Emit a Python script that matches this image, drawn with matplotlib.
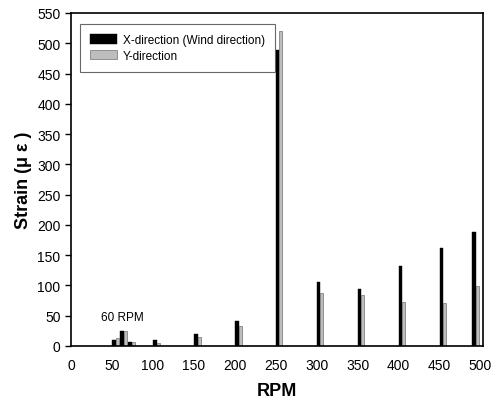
import matplotlib
matplotlib.use("Agg")
import matplotlib.pyplot as plt

rpm = [50, 60, 70, 100, 150, 200, 250, 300, 350, 400, 450, 490]
x_strain = [10, 25, 7, 10, 20, 41, 489, 105, 94, 132, 162, 189]
y_strain = [14, 25, 7, 5, 15, 33, 521, 88, 85, 73, 71, 99]
xticks = list(range(0, 501, 50))
yticks = list(range(0, 551, 50))

plt.rcParams['font.family'] = ['Liberation Sans', 'DejaVu Sans']

fig = plt.figure(figsize=(4.97, 4.10), dpi=100)
ax = fig.add_axes([0.1429, 0.1537, 0.8289, 0.8122])

w = 4.5
ax.bar(rpm, x_strain, width=w, align='edge', color='black', edgecolor='black', linewidth=0.3,
       label='X-direction (Wind direction)')
ax.bar([r + w for r in rpm], y_strain, width=w - 0.8, align='edge', color='#bdbdbd',
       edgecolor='#555555', linewidth=0.4, label='Y-direction')

ax.set_xlim(0, 503)
ax.set_ylim(0, 550)
ax.set_xticks(xticks)
ax.set_yticks(yticks)
ax.tick_params(axis='x', length=0, labelsize=10, pad=9)
ax.tick_params(axis='y', length=4, width=1, direction='out', labelsize=10)
for s in ax.spines.values():
    s.set_linewidth(1.2)

ax.set_xlabel('RPM', fontsize=13, fontweight='bold', labelpad=7)
ax.set_ylabel('Strain (μ ε )', fontsize=13, fontweight='bold', labelpad=4)

ax.text(36, 48, '60 RPM', fontsize=8.5, va='center', ha='left')

leg = ax.legend(loc='upper left', bbox_to_anchor=(0.022, 0.967), fontsize=8.5, frameon=True,
                fancybox=False, edgecolor='#444444', handlelength=2.3, handleheight=0.9,
                borderpad=0.85, labelspacing=0.3, handletextpad=0.5, borderaxespad=0)
leg.get_frame().set_linewidth(0.8)

fig.savefig('out.png', dpi=100)
